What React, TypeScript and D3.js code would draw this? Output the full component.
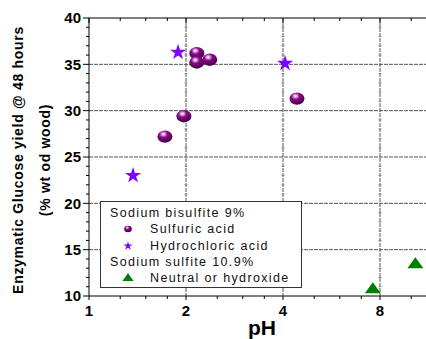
import * as d3 from 'd3';

const sulfuricPH = [1.72, 1.97, 2.16, 2.16, 2.37, 4.42];
const sulfuricYield = [27.2, 29.4, 36.2, 35.2, 35.5, 31.3];
const hclPH = [1.37, 1.89, 4.06];
const hclYield = [23.0, 36.3, 35.1];
const neutralPH = [7.6, 10.3];
const neutralYield = [10.9, 13.6];

const xTicks = [1, 2, 4, 8];
const xMinor = [1.25, 1.5, 1.75, 2.5, 3, 3.5, 5, 6, 7, 10, 12, 14];
const yTicks = [10, 15, 20, 25, 30, 35, 40];
const xGrid = [2, 4, 8];
const yGrid = [15, 20, 25, 30, 35];

const W = 426;
const H = 339;
const font = 'Arial, "Liberation Sans", sans-serif';

const triPath = (w: number, h: number) => `M0,${-h / 2}L${w / 2},${h / 2}L${-w / 2},${h / 2}Z`;

export default function App() {
  const x = d3.scaleLog().base(2).domain([1, 16]).range([89, 477]);
  const y = d3.scaleLinear().domain([10, 40]).range([296, 18]);
  const yMinor = d3.range(10, 41, 1).filter((v) => v % 5 !== 0);
  const star = d3.symbol(d3.symbolStar, 80)() ?? '';
  const starSmall = d3.symbol(d3.symbolStar, 24)() ?? '';
  const [x0, x1] = [89, W];
  const [yb, yt] = [y(10), y(40)];

  return (
    <svg width={W} height={H} style={{ position: 'absolute', left: 0, top: 0, background: '#fff' }}>
      <defs>
        <radialGradient id="ball" cx="40%" cy="30%" r="65%">
          <stop offset="0%" stopColor="#ffffff" />
          <stop offset="15%" stopColor="#e0b0e0" />
          <stop offset="42%" stopColor="#8a0a8a" />
          <stop offset="100%" stopColor="#4a004a" />
        </radialGradient>
      </defs>

      {/* grid */}
      {yGrid.map((t) => (
        <line key={`gy${t}`} x1={x0} x2={x1} y1={y(t)} y2={y(t)} stroke="#555" strokeDasharray="4 1" />
      ))}
      {xGrid.map((t) => (
        <g key={`gx${t}`}>
          <line x1={x(t)} x2={x(t)} y1={yt} y2={yb} stroke="#555" strokeDasharray="4 1" />
          {yMinor.map((m) => (
            <line key={m} x1={x(t) - 1.5} x2={x(t) + 1.5} y1={y(m)} y2={y(m)} stroke="#888" />
          ))}
        </g>
      ))}

      {/* axes */}
      <line x1={x0} x2={x0} y1={yt} y2={yb} stroke="#000" />
      <line x1={x0} x2={x1} y1={yb} y2={yb} stroke="#000" />
      <line x1={x0} x2={x1} y1={yt} y2={yt} stroke="#000" />
      {yTicks.map((t) => (
        <g key={`yt${t}`}>
          <line x1={x0 - 6} x2={x0} y1={y(t)} y2={y(t)} stroke="#000" />
          <text x={81} y={y(t)} dy="0.36em" textAnchor="end" fontFamily={font} fontWeight="bold" fontSize={15}>
            {t}
          </text>
        </g>
      ))}
      {yMinor.map((t) => (
        <line key={`ym${t}`} x1={x0 - 3} x2={x0} y1={y(t)} y2={y(t)} stroke="#000" />
      ))}
      {xTicks.map((t) => (
        <g key={`xt${t}`}>
          <line x1={x(t)} x2={x(t)} y1={yb} y2={yb + 4} stroke="#000" />
          <line x1={x(t)} x2={x(t)} y1={yt} y2={yt + 5} stroke="#000" />
          <text x={x(t)} y={316} textAnchor="middle" fontFamily={font} fontWeight="bold" fontSize={15}>
            {t}
          </text>
        </g>
      ))}
      {xMinor.map((t) => (
        <g key={`xm${t}`}>
          <line x1={x(t)} x2={x(t)} y1={yb} y2={yb + 3} stroke="#000" />
          <line x1={x(t)} x2={x(t)} y1={yt} y2={yt + 3} stroke="#000" />
        </g>
      ))}

      {/* titles */}
      <text x={262} y={335} textAnchor="middle" fontFamily={font} fontWeight="bold" fontSize={21}>
        pH
      </text>
      <g fontFamily={font} fontWeight="bold" fontSize={14} textAnchor="middle" letterSpacing={0.7}>
        <text transform="translate(23,160) rotate(-90)">Enzymatic Glucose yield @ 48 hours</text>
        <text transform="translate(50,160) rotate(-90)">(% wt od wood)</text>
      </g>

      {/* data */}
      {neutralPH.map((p, i) => (
        <path key={`n${i}`} d={triPath(16, 11)} transform={`translate(${x(p)},${y(neutralYield[i])})`} fill="#008000" />
      ))}
      {sulfuricPH.map((p, i) => (
        <ellipse key={`s${i}`} cx={x(p)} cy={y(sulfuricYield[i])} rx={7.5} ry={6.2} fill="url(#ball)" />
      ))}
      {hclPH.map((p, i) => (
        <path key={`h${i}`} d={star} transform={`translate(${x(p)},${y(hclYield[i])})`} fill="#8000ff" />
      ))}

      {/* legend */}
      <rect x={100.5} y={201.5} width={201} height={86} fill="#fff" stroke="#333" />
      <g fontFamily={font} fontSize={12.5} letterSpacing={1.35} fill="#111">
        <text x={110} y={217}>Sodium bisulfite 9%</text>
        <ellipse cx={128} cy={229} rx={3.8} ry={3.2} fill="url(#ball)" />
        <text x={150} y={233}>Sulfuric acid</text>
        <path d={starSmall} transform="translate(128,246)" fill="#8000ff" />
        <text x={150} y={249.5}>Hydrochloric acid</text>
        <text x={110} y={266}>Sodium sulfite 10.9%</text>
        <path d={triPath(11, 8)} transform="translate(128,277)" fill="#008000" />
        <text x={150} y={282}>Neutral or hydroxide</text>
      </g>
    </svg>
  );
}
